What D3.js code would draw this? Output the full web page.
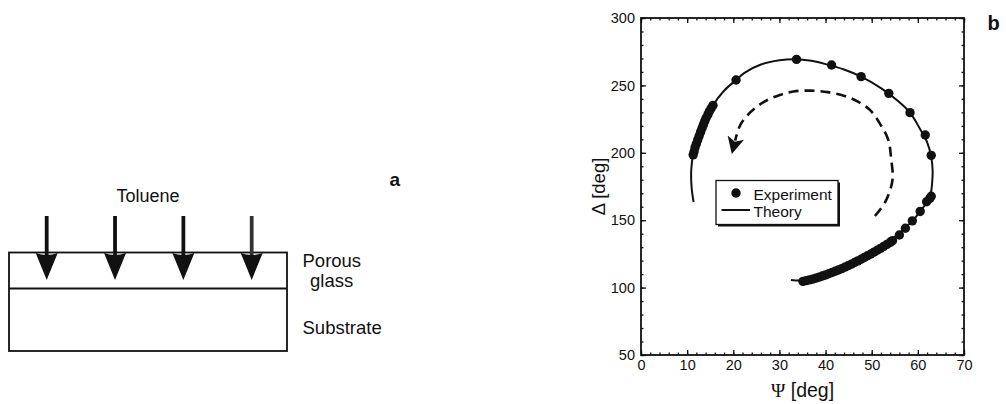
<!DOCTYPE html>
<html>
<head>
<meta charset="utf-8">
<script src="https://cdn.jsdelivr.net/npm/d3@7"></script>
<style>
  body { margin: 0; background: #fff; }
  text { font-family: "Liberation Sans", Arial, sans-serif; fill: #111; }
</style>
</head>
<body>
<div id="my_dataviz"></div>
<script>
// experiment points: Psi [deg], Delta [deg]
var expPsi = [35.1, 35.8, 36.5, 37.2, 37.9, 38.6, 39.3, 40.0, 40.7, 41.4, 42.1, 42.8, 43.5, 44.2, 44.9, 45.6, 46.3, 47.0, 47.7, 48.4, 49.1, 49.8, 50.5, 51.2, 51.9, 52.6, 53.3, 54.0, 54.5,
              56.0, 57.3, 58.8, 60.5, 61.9, 62.6, 62.9, 62.9, 61.6, 58.3, 53.7, 47.7, 41.3, 33.7, 20.6,
              15.6, 15.2, 14.8, 14.5, 14.1, 13.8, 13.5, 13.2, 12.9, 12.6, 12.3, 12.0, 11.7, 11.5, 11.3];
var expDelta = [104.6, 105.2, 105.7, 106.3, 107.0, 107.8, 108.6, 109.4, 110.3, 111.2, 112.1, 113.1, 114.1, 115.2, 116.3, 117.4, 118.6, 119.8, 121.0, 122.3, 123.6, 124.9, 126.3, 127.7, 129.1, 130.6, 132.1, 133.6, 134.8,
                139.0, 144.0, 149.5, 156.5, 163.7, 166.2, 167.8, 198.1, 213.2, 229.8, 244.1, 256.5, 265.1, 269.3, 254.0,
                235.2, 233.0, 230.6, 228.3, 225.8, 223.3, 220.7, 218.0, 215.3, 212.5, 209.6, 206.7, 203.8, 200.8, 198.5];

// theory curve
var theoryPsi = [32.5, 35.0, 38.0, 41.7, 45.0, 48.2, 51.8, 54.6, 57.0, 59.0, 60.5, 62.0, 62.8, 63.1, 63.2, 62.9, 62.0, 60.5, 58.3, 55.5, 52.0, 47.7, 44.0, 40.0, 36.5, 33.7, 30.0, 26.0, 22.5, 20.6, 18.0, 15.6, 13.5, 12.1, 11.3, 10.9, 10.9, 11.1, 11.4];
var theoryDelta = [105.7, 105.4, 107.5, 112.0, 117.2, 123.0, 129.6, 136.5, 143.5, 150.0, 156.5, 163.5, 170.0, 178.0, 187.0, 197.0, 208.0, 217.5, 229.8, 239.0, 248.0, 256.5, 261.8, 265.8, 268.4, 269.3, 268.6, 265.5, 259.5, 254.0, 246.0, 235.2, 220.0, 207.0, 198.5, 188.0, 178.0, 170.0, 163.5];

// dashed direction arrow (in data units)
var arrowPsi = [50.7, 53.0, 54.5, 54.2, 53.6, 51.8, 49.6, 46.8, 44.6, 40.5, 36.6, 33.0, 30.1, 27.3, 25.1, 23.1, 21.5, 20.4];
var arrowDelta = [153.1, 164.0, 179.8, 196.0, 209.5, 221.5, 231.8, 238.3, 241.6, 245.0, 246.1, 245.5, 242.9, 239.0, 234.2, 228.0, 220.6, 209.0];

var xTicks = [0, 10, 20, 30, 40, 50, 60, 70];
var yTicks = [50, 100, 150, 200, 250, 300];
var legendLabels = ["Experiment", "Theory"];

// sketch (panel a)
var arrowSlots = [0, 1, 2, 3];
var layerLabels = ["Porous", "glass", "Substrate"];

var W = 1006, H = 404;
var margin = {top: 18, left: 641},
    width = 323,
    height = 337;

var svg = d3.select("#my_dataviz")
  .append("svg")
    .attr("width", W)
    .attr("height", H);

// ---------- panel a ----------
var sx = d3.scaleLinear().domain([0, 3]).range([46.7, 251.7]);

svg.append("rect")
  .attr("x", 9).attr("y", 252.5)
  .attr("width", 278).attr("height", 98.5)
  .attr("fill", "none").attr("stroke", "#111").attr("stroke-width", 1.8);
svg.append("line")
  .attr("x1", 9).attr("x2", 287)
  .attr("y1", 288.5).attr("y2", 288.5)
  .attr("stroke", "#111").attr("stroke-width", 1.8);

svg.selectAll("sketcharrow")
  .data(arrowSlots)
  .enter()
  .append("line")
    .attr("x1", function(d) { return sx(d); })
    .attr("x2", function(d) { return sx(d); })
    .attr("y1", 216).attr("y2", 260)
    .attr("stroke", function(d) { return d == 3 ? "#333" : "#111"; })
    .attr("stroke-width", 3.8);

svg.selectAll("sketchhead")
  .data(arrowSlots)
  .enter()
  .append("path")
    .attr("d", function(d) {
      var cx = sx(d);
      return "M" + (cx - 11) + ",253 Q" + cx + ",257 " + (cx + 11) + ",253 L" + cx + ",280 Z";
    })
    .attr("fill", "#111");

svg.append("text").attr("x", 148).attr("y", 201.5)
  .attr("text-anchor", "middle").style("font-size", "18px").text("Toluene");
svg.append("text").attr("x", 302.5).attr("y", 267)
  .style("font-size", "18.5px").text(layerLabels[0]);
svg.append("text").attr("x", 310).attr("y", 286.5)
  .style("font-size", "18.5px").text(layerLabels[1]);
svg.append("text").attr("x", 302.5).attr("y", 334)
  .style("font-size", "18.5px").text(layerLabels[2]);
svg.append("text").attr("x", 389.5).attr("y", 186)
  .style("font-size", "19px").style("font-weight", "bold").text("a");

// ---------- panel b ----------
var g = svg.append("g")
  .attr("transform", "translate(" + margin.left + "," + margin.top + ")");

var x = d3.scaleLinear().domain([0, 70]).range([0, width]);
var y = d3.scaleLinear().domain([50, 300]).range([height, 0]);

var xMinor = d3.range(0, 70.01, 2);
var yMinor = d3.range(50, 300.01, 10);

function styleAxis(sel) {
  sel.select(".domain").remove();
  sel.selectAll("line").attr("stroke", "#111").attr("stroke-width", 1.3);
  sel.selectAll("text")
    .style("font-family", "'Liberation Sans', Arial, sans-serif")
    .style("font-size", "14.5px")
    .attr("fill", "#111");
}

// bottom
g.append("g").attr("transform", "translate(0," + height + ")")
  .call(d3.axisBottom(x).tickValues(xMinor).tickSize(-2.5).tickFormat(""))
  .call(styleAxis);
g.append("g").attr("transform", "translate(0," + height + ")")
  .call(d3.axisBottom(x).tickValues(xTicks).tickSize(-5).tickPadding(5).tickFormat(d3.format("d")))
  .call(styleAxis);
// top
g.append("g")
  .call(d3.axisTop(x).tickValues(xMinor).tickSize(-2.5).tickFormat(""))
  .call(styleAxis);
g.append("g")
  .call(d3.axisTop(x).tickValues(xTicks).tickSize(-5).tickFormat(""))
  .call(styleAxis);
// left
g.append("g")
  .call(d3.axisLeft(y).tickValues(yMinor).tickSize(-2.5).tickFormat(""))
  .call(styleAxis);
g.append("g")
  .call(d3.axisLeft(y).tickValues(yTicks).tickSize(-5).tickPadding(6).tickFormat(d3.format("d")))
  .call(styleAxis);
// right
g.append("g").attr("transform", "translate(" + width + ",0)")
  .call(d3.axisRight(y).tickValues(yMinor).tickSize(-2.5).tickFormat(""))
  .call(styleAxis);
g.append("g").attr("transform", "translate(" + width + ",0)")
  .call(d3.axisRight(y).tickValues(yTicks).tickSize(-5).tickFormat(""))
  .call(styleAxis);

// frame
g.append("rect")
  .attr("width", width).attr("height", height)
  .attr("fill", "none").attr("stroke", "#111").attr("stroke-width", 1.8);

// axis titles
var xt = g.append("text")
  .attr("x", width / 2).attr("y", height + 42)
  .attr("text-anchor", "middle")
  .style("font-size", "19.5px");
xt.append("tspan").style("font-family", "'Liberation Serif', 'DejaVu Serif', serif").text("Ψ");
xt.append("tspan").text(" [deg]");

g.append("text")
  .attr("transform", "translate(-36," + (height / 2) + ") rotate(-90)")
  .attr("text-anchor", "middle")
  .style("font-size", "18.5px")
  .text("Δ [deg]");

svg.append("text").attr("x", 987.5).attr("y", 30)
  .style("font-size", "20px").style("font-weight", "bold").text("b");

// theory line
var theory = theoryPsi.map(function(d, i) { return [d, theoryDelta[i]]; });
g.append("path")
  .datum(theory)
  .attr("fill", "none")
  .attr("stroke", "#111")
  .attr("stroke-width", 2)
  .attr("d", d3.line()
    .curve(d3.curveCatmullRom)
    .x(function(d) { return x(d[0]); })
    .y(function(d) { return y(d[1]); }));

// experiment points
var exp = expPsi.map(function(d, i) { return [d, expDelta[i]]; });
g.selectAll("mydot")
  .data(exp)
  .enter()
  .append("circle")
    .attr("cx", function(d) { return x(d[0]); })
    .attr("cy", function(d) { return y(d[1]); })
    .attr("r", 4.7)
    .attr("fill", "#111");

// dashed arrow
svg.append("defs").append("marker")
  .attr("id", "head")
  .attr("viewBox", "0 0 16 16")
  .attr("refX", 3).attr("refY", 8)
  .attr("markerWidth", 17).attr("markerHeight", 17)
  .attr("markerUnits", "userSpaceOnUse")
  .attr("orient", "auto")
  .append("path")
    .attr("d", "M0,0 L16,8 L0,16 L4,8 Z")
    .attr("fill", "#111");

var arrow = arrowPsi.map(function(d, i) { return [d, arrowDelta[i]]; });
g.append("path")
  .datum(arrow)
  .attr("fill", "none")
  .attr("stroke", "#111")
  .attr("stroke-width", 2.6)
  .attr("stroke-dasharray", "10,6")
  .attr("marker-end", "url(#head)")
  .attr("d", d3.line()
    .curve(d3.curveCatmullRom)
    .x(function(d) { return x(d[0]); })
    .y(function(d) { return y(d[1]); }));

// legend
var leg = g.append("g").attr("transform", "translate(75,162.5)");
leg.append("rect").attr("x", 2).attr("y", 2)
  .attr("width", 122).attr("height", 44).attr("fill", "#111");
leg.append("rect").attr("width", 122).attr("height", 44)
  .attr("fill", "#fff").attr("stroke", "#111").attr("stroke-width", 1.3);
leg.append("circle").attr("cx", 20).attr("cy", 12.5).attr("r", 4.7).attr("fill", "#111");
leg.append("line").attr("x1", 5.5).attr("x2", 34).attr("y1", 29.5).attr("y2", 29.5)
  .attr("stroke", "#111").attr("stroke-width", 2);
leg.selectAll("legtext")
  .data(legendLabels)
  .enter()
  .append("text")
    .attr("x", 37.5)
    .attr("y", function(d, i) { return 19 + i * 17; })
    .style("font-size", "15.5px")
    .text(function(d) { return d; });
</script>
</body>
</html>
